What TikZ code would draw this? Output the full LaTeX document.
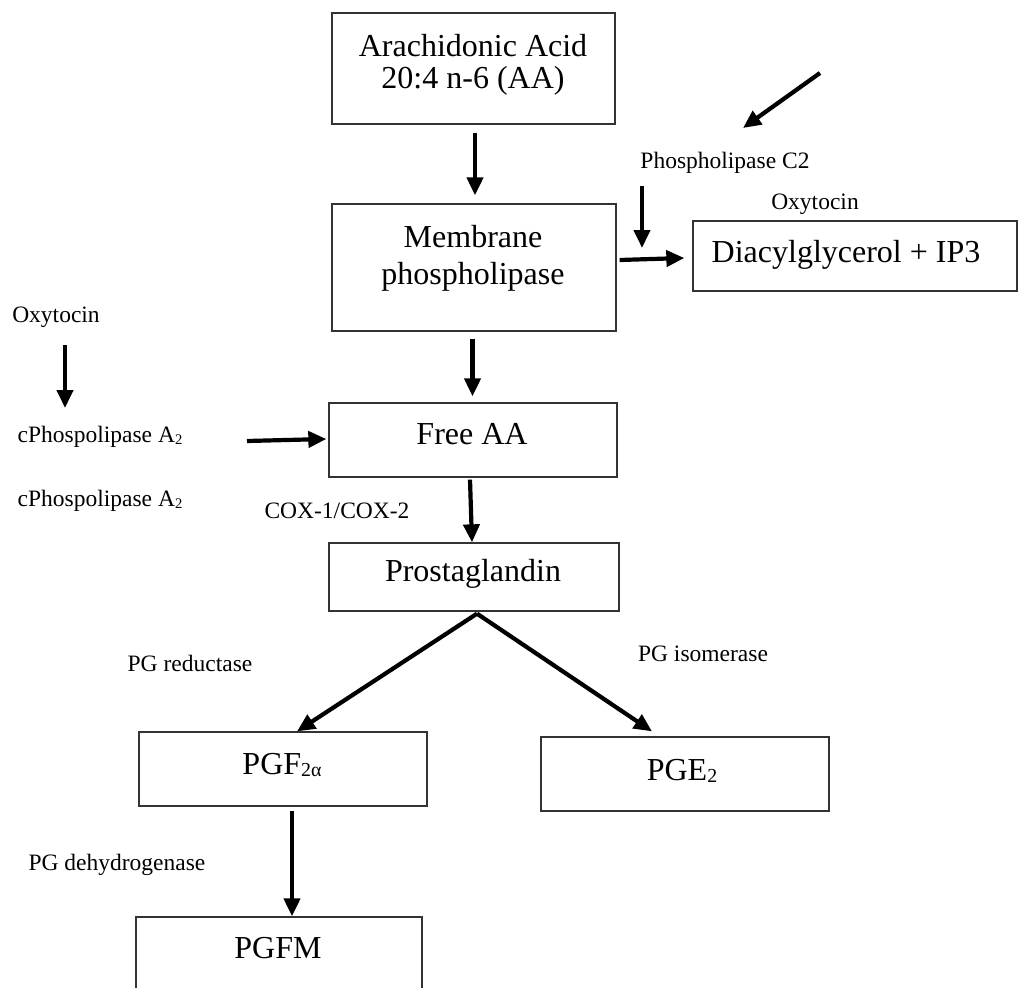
\documentclass[tikz,border=0pt]{standalone}
\usepackage{fontspec}
\usepackage{graphicx}
\setmainfont{Liberation Serif}
\usetikzlibrary{arrows.meta}
% small lowered index as set in the labels (A2, PGE2, PGF2alpha)
\newcommand{\lowidx}[1]{\raisebox{-0.08em}{\scalebox{0.62}{#1}}}
\begin{document}
\begin{tikzpicture}[x=1pt,y=-1pt,
  box/.style={draw=black!80, line width=1.3pt, inner sep=0pt},
  big/.style={font=\fontsize{32}{32}\selectfont, align=center, inner sep=0pt},
  small/.style={font=\fontsize{23.5}{26}\selectfont, inner sep=0pt, anchor=base},
  arr/.style={line width=4.2pt, -{Triangle[length=18pt,width=16pt]}}]
\useasboundingbox (0,0) rectangle (1019,987);
\fill[white] (0,0) rectangle (1019,987);
\clip (0,0) rectangle (1019,987);

% boxes
\node[box, minimum width=283pt, minimum height=111pt] (aa)  at (473.5,68.5) {};
\node[box, minimum width=284pt, minimum height=127pt] (mem) at (474,267.5) {};
\node[box, minimum width=324pt, minimum height=70pt]  (dag) at (855,256) {};
\node[box, minimum width=288pt, minimum height=74pt]  (fa)  at (473,440) {};
\node[box, minimum width=290pt, minimum height=68pt]  (pg)  at (474,577) {};
\node[box, minimum width=288pt, minimum height=74pt]  (pgf) at (283,769) {};
\node[box, minimum width=288pt, minimum height=74pt]  (pge) at (685,774) {};
\node[box, minimum width=286pt, minimum height=150pt] (pgfm) at (279,992) {};

% box texts
\node[big, anchor=north] (aat) at (473,34) {Arachidonic Acid\\20:4 n-6 (AA)};
\node[big, anchor=north, font=\fontsize{32}{37}\selectfont] (memt) at (473,225) {Membrane\\phospholipase};
\node[big, anchor=base] (dagt)  at (846,262) {Diacylglycerol + IP3};
\node[big, anchor=base] (fat)   at (472,444) {Free AA};
\node[big, anchor=base] (pgt)   at (473,581) {Prostaglandin};
\node[big, anchor=base] (pgft)  at (282,774) {PGF\lowidx{2α}};
\node[big, anchor=base] (pget)  at (682,780) {PGE\lowidx{2}};
\node[big, anchor=base] (pgfmt) at (278,958) {PGFM};

% enzyme and hormone labels
\node[small] (plc)  at (725,169) {Phospholipase C2};
\node[small] (oxr)  at (815,209) {Oxytocin};
\node[small] (oxl)  at (56,322.5) {Oxytocin};
\node[small] (cpa)  at (100,442.5) {cPhospolipase A\lowidx{2}};
\node[small] (cpb)  at (100,506.5) {cPhospolipase A\lowidx{2}};
\node[small] (cox)  at (337,518) {COX-1/COX-2};
\node[small] (pgr)  at (190,671) {PG reductase};
\node[small] (pgi)  at (703,661.5) {PG isomerase};
\node[small] (pgd)  at (117,870) {PG dehydrogenase};

% free ends of the side arrows
\coordinate (plcin)  at (820,73);
\coordinate (plcout) at (743,128);
\coordinate (dgin)   at (642,186);
\coordinate (dgout)  at (642,248);
\coordinate (oxin)   at (65,345);
\coordinate (oxout)  at (65,408);
\coordinate (cpin)   at (247,441);

% main pathway
\draw[arr] ([xshift=1.5pt,yshift=-8pt]aa.south) -- ([xshift=1pt,yshift=8pt]mem.north);
\draw[arr] ([xshift=-1.5pt,yshift=-7pt]mem.south) -- ([xshift=-0.5pt,yshift=6pt]fa.north);
\draw[arr] ([xshift=-3pt,yshift=-2pt]fa.south) -- ([xshift=-2pt]pg.north);
\draw[arr] ([xshift=3pt,yshift=-2pt]pg.south) -- ([xshift=14pt]pgf.north);
\draw[arr] ([xshift=3pt,yshift=-2pt]pg.south) -- ([xshift=-33pt,yshift=5pt]pge.north);
\draw[arr] ([xshift=9pt,yshift=-4pt]pgf.south) -- ([xshift=13pt]pgfm.north);
\draw[arr] ([xshift=3pt,yshift=7.5pt]mem.east) -- ([xshift=-8pt,yshift=-2pt]dag.west);

% side arrows
\draw[arr] (plcin) -- (plcout);
\draw[arr] (dgin) -- (dgout);
\draw[arr] (oxin) -- (oxout);
\draw[arr] (cpin) -- ([xshift=-2pt,yshift=1pt]fa.west);
\end{tikzpicture}
\end{document}
